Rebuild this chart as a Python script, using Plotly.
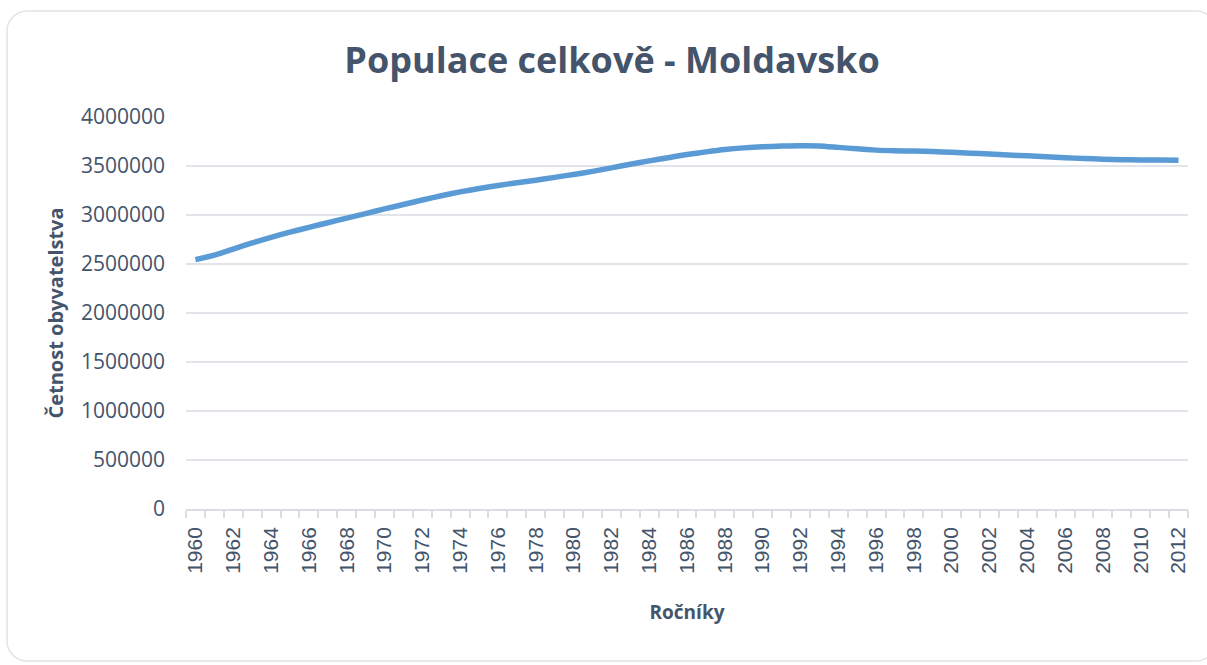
import plotly.graph_objects as go

years = list(range(1960, 2013))
population = [
    2544000, 2590000, 2653000, 2715000, 2772000, 2825000, 2874000, 2921000,
    2968000, 3014000, 3062000, 3107000, 3153000, 3196000, 3236000, 3270000,
    3301000, 3329000, 3355000, 3384000, 3414000, 3445000, 3481000, 3518000,
    3552000, 3585000, 3617000, 3644000, 3668000, 3685000, 3696000, 3703000,
    3707000, 3705000, 3690000, 3675000, 3662000, 3655000, 3652000, 3647000,
    3640000, 3631000, 3623000, 3612000, 3604000, 3595000, 3585000, 3576000,
    3570000, 3565000, 3562000, 3560000, 3559000,
]
tick_years = list(range(1960, 2013, 2))
y_ticks = [0, 500000, 1000000, 1500000, 2000000, 2500000, 3000000, 3500000, 4000000]

W, H = 1207, 665
L, R, T, B = 186, 19, 117, 156
TXT = "#44546A"

def px(x):
    return (x - L) / (W - L - R)

def py(y):
    return (H - B - y) / (H - T - B)

# rounded card border (pixel coords -> paper coords)
x0, x1, y0, y1, rad = 7, 1216, 11, 661, 20
k = 0.45
path = (
    f"M {px(x0 + rad)},{py(y0)} L {px(x1 - rad)},{py(y0)} "
    f"C {px(x1 - rad * k)},{py(y0)} {px(x1)},{py(y0 + rad * k)} {px(x1)},{py(y0 + rad)} "
    f"L {px(x1)},{py(y1 - rad)} "
    f"C {px(x1)},{py(y1 - rad * k)} {px(x1 - rad * k)},{py(y1)} {px(x1 - rad)},{py(y1)} "
    f"L {px(x0 + rad)},{py(y1)} "
    f"C {px(x0 + rad * k)},{py(y1)} {px(x0)},{py(y1 - rad * k)} {px(x0)},{py(y1 - rad)} "
    f"L {px(x0)},{py(y0 + rad)} "
    f"C {px(x0)},{py(y0 + rad * k)} {px(x0 + rad * k)},{py(y0)} {px(x0 + rad)},{py(y0)} Z"
)

fig = go.Figure()
fig.add_trace(go.Scatter(
    x=years, y=population, mode="lines",
    line=dict(color="#5B9BD5", width=5.5, shape="spline", smoothing=0.6),
    showlegend=False, hoverinfo="x+y",
))

fig.update_layout(
    width=W, height=H,
    margin=dict(l=L, r=R, t=T, b=B),
    paper_bgcolor="white", plot_bgcolor="white",
    title=dict(
        text="<b>Populace celkově - Moldavsko</b>",
        x=612 / W, xref="container", xanchor="center",
        y=1 - 60 / H, yref="container", yanchor="middle",
        font=dict(family="Open Sans", size=36, color=TXT),
    ),
    shapes=[dict(type="path", path=path, xref="paper", yref="paper",
                 line=dict(color="#E1E4E8", width=1.5), layer="below")],
)

fig.update_xaxes(
    range=[1959.5, 2012.5],
    tickmode="array", tickvals=tick_years, ticktext=[str(v) for v in tick_years],
    tickangle=-90, ticks="", ticklabelstandoff=8,
    tickfont=dict(family="Liberation Sans", size=21, color=TXT),
    showgrid=False, zeroline=False,
    showline=True, linecolor="#D9DDE3", linewidth=1.5,
    minor=dict(ticks="outside", tick0=1959.5, dtick=1, ticklen=7,
               tickcolor="#D9DDE3", tickwidth=1.5, showgrid=False),
    title=dict(text="<b>Ročníky</b>", standoff=33,
               font=dict(family="Open Sans", size=19, color=TXT)),
)

fig.update_yaxes(
    range=[0, 4000000],
    tickmode="array", tickvals=y_ticks, ticktext=[str(v) for v in y_ticks],
    tickfont=dict(family="Open Sans", size=21, color=TXT),
    ticklabelstandoff=20,
    showgrid=True, gridcolor="#E1E4E8", gridwidth=1.5,
    zeroline=False, showline=False,
    title=dict(text="<b>Četnost obyvatelstva</b>", standoff=11,
               font=dict(family="Open Sans", size=20, color=TXT)),
)

fig.write_html("out.html", config={"displayModeBar": False},
               post_script="document.body.style.margin='0';")
